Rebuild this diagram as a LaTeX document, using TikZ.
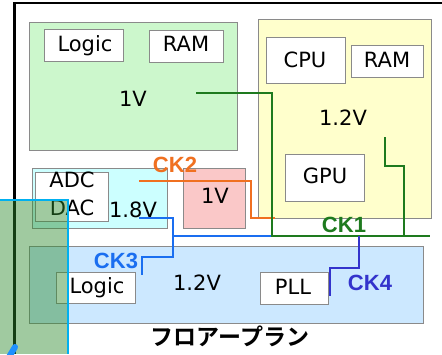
\documentclass[tikz,border=0pt]{standalone}
\usepackage{fontspec}
\setmainfont{DejaVu Sans}
\newfontfamily\ckfont{Liberation Sans}
\newfontfamily\jpfont{Noto Sans CJK JP}[BoldFont={Noto Sans CJK JP Bold}]
\definecolor{boxgray}{HTML}{8A8A8A}
\definecolor{lgreen}{HTML}{CCF7CC}
\definecolor{lyellow}{HTML}{FFFFCC}
\definecolor{lcyan}{HTML}{CCFFFF}
\definecolor{lpink}{HTML}{FAC8C8}
\definecolor{lblue}{HTML}{CCE8FF}
\definecolor{wgreen}{HTML}{1E7A1E}
\definecolor{worange}{HTML}{F07020}
\definecolor{wblue}{HTML}{1A6EF0}
\definecolor{wdblue}{HTML}{3333CC}
\definecolor{ovgreen}{HTML}{2E8B2E}
\definecolor{cyanb}{HTML}{00B0F0}
\definecolor{blobblue}{HTML}{1E90FF}
\begin{document}
\begin{tikzpicture}[x=1pt,y=-1pt,
  box/.style={draw=boxgray, line width=1pt, anchor=north west, inner sep=0pt},
  wbox/.style={box, fill=white},
  lbl/.style={anchor=base, inner sep=0pt, font=\fontsize{21}{25}\selectfont},
  cklbl/.style={anchor=base, inner sep=0pt, font=\ckfont\bfseries\fontsize{22}{26}\selectfont},
  wire/.style={line width=2.8pt}]
\useasboundingbox (0,0) rectangle (442,354);
\fill[white] (0,0) rectangle (442,354);
% frame
\draw[line width=2.5pt] (14.5,354) -- (14.5,3) -- (442,3);
% top-left 1V domain
\node[box, fill=lgreen, minimum width=208pt, minimum height=128pt] (g1) at (29,22) {};
\node[wbox, minimum width=79pt, minimum height=32pt] (logic1) at (44,29) {};
\node[wbox, minimum width=74pt, minimum height=32pt] (ram1) at (149,30) {};
\node[lbl] (tlogic1) at (85,51) {Logic};
\node[lbl] (tram1) at (186,51.5) {RAM};
\node[lbl] (tv1) at (133,106) {1V};
% right 1.2V domain
\node[box, fill=lyellow, minimum width=173pt, minimum height=199pt] (yel) at (258,19) {};
\node[wbox, minimum width=79pt, minimum height=46pt] (cpu) at (266,37) {};
\node[wbox, minimum width=72pt, minimum height=32pt] (ram2) at (351,45) {};
\node[wbox, minimum width=79pt, minimum height=47pt] (gpu) at (285,154) {};
\node[lbl] (tcpu) at (305,67) {CPU};
\node[lbl] (tram2) at (387,67) {RAM};
\node[lbl] (tv2) at (343,125) {1.2V};
\node[lbl] (tgpu) at (325,183) {GPU};
% ADC/DAC 1.8V
\node[box, fill=lcyan, minimum width=135pt, minimum height=60pt] (cy) at (32,168) {};
\node[wbox, minimum width=73pt, minimum height=49pt] (adc) at (35,172) {};
\node[lbl] (tadc) at (72,187) {ADC};
\node[lbl] (tdac) at (72,215) {DAC};
\node[lbl] (tv3) at (133,217) {1.8V};
% pink 1V
\node[box, fill=lpink, minimum width=62pt, minimum height=60pt] (pk) at (183,168) {};
\node[lbl] (tv4) at (215,203) {1V};
% bottom 1.2V
\node[box, fill=lblue, minimum width=394pt, minimum height=77pt] (bl) at (29,246) {};
\node[wbox, minimum width=79pt, minimum height=31pt] (logic2) at (56,272) {};
\node[wbox, minimum width=68pt, minimum height=32pt] (pll) at (260,272) {};
\node[lbl] (tlogic2) at (97,293) {Logic};
\node[lbl] (tv5) at (197,290) {1.2V};
\node[lbl] (tpll) at (293,294) {PLL};
% wires
\draw[wire, wblue] (139,218) -- (173,218) -- (173,257) -- (142,257) -- (142,275);
\draw[wire, wblue] (173,236) -- (272,236);
\draw[wire, worange] (139,181) -- (251,181) -- (251,218) -- (275,218);
\draw[wire, wgreen] (196,93) -- (272,93) -- (272,236) -- (430,236);
\draw[wire, wgreen] (385,137) -- (385,166) -- (404,166) -- (404,236);
\draw[wire, wdblue] (359,236) -- (359,268) -- (330,268) -- (330,296);
% clock labels
\node[cklbl, text=wgreen] (ck1) at (344,232) {CK1};
\node[cklbl, text=worange] (ck2) at (175,172) {CK2};
\node[cklbl, text=wblue] (ck3) at (116,268) {CK3};
\node[cklbl, text=wdblue] (ck4) at (370,290) {CK4};
% overlay
\fill[ovgreen, opacity=0.45] (0,200) rectangle (68,354);
\draw[cyanb, line width=2pt] (0,200) -- (68,200) -- (68,354);
\draw[blobblue, line width=6pt, line cap=round] (9,357) -- (15,347);
% caption
\node[inner sep=0pt, font=\jpfont\bfseries\fontsize{23}{27}\selectfont] (cap) at (230,336) {フロアープラン};
\end{tikzpicture}
\end{document}
